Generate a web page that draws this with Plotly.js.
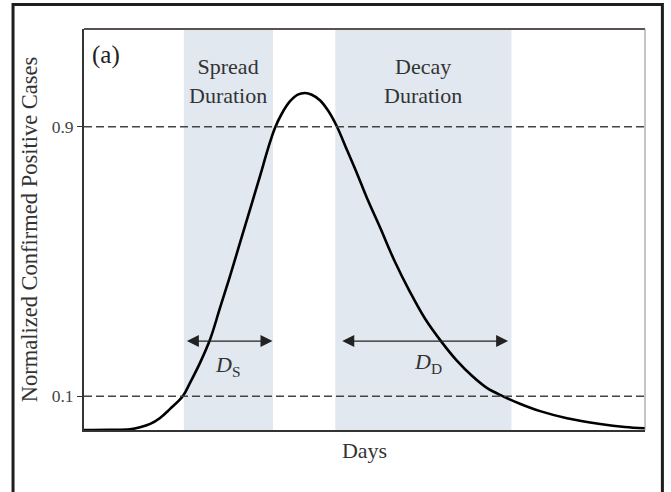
<!DOCTYPE html>
<html>
<head>
<meta charset="utf-8">
<script src="https://cdn.plot.ly/plotly-3.0.1.min.js"></script>
<style>
html,body{margin:0;padding:0;background:#fff;}
#chart{width:671px;height:492px;}
</style>
</head>
<body>
<div id="chart"></div>
<script>
// Curve (x: days scaled 0-100, y: normalized cases)
const days = [0, 4.5, 8.2, 10.0, 11.8, 13.5, 15.3, 17.6, 18.9, 20.7, 22.5, 24.2, 26.0, 27.8, 29.6, 31.4, 32.8, 34.0, 35.3, 36.7, 38.1, 39.4, 40.6, 42.1, 43.5, 45.1, 46.9, 48.7, 50.4, 52.8, 55.4, 58.1, 60.8, 63.8, 66.5, 69.2, 71.8, 74.7, 77.7, 81.3, 86.1, 92.0, 96.4, 100];
const cases = [0, 0.0005, 0.002, 0.008, 0.018, 0.035, 0.062, 0.10, 0.14, 0.20, 0.27, 0.36, 0.455, 0.555, 0.655, 0.755, 0.835, 0.895, 0.94, 0.975, 0.995, 1.0, 0.995, 0.978, 0.948, 0.90, 0.83, 0.76, 0.69, 0.60, 0.50, 0.41, 0.33, 0.26, 0.205, 0.16, 0.125, 0.10, 0.078, 0.056, 0.035, 0.018, 0.009, 0.005];
const thresholds = [0.1, 0.9];
const thresholdLabels = ['0.1', '0.9'];
const spreadSpan = [17.8, 33.7];
const decaySpan = [44.8, 76.2];
const spreadArrow = [17.8, 33.6];
const decayArrow = [45.5, 75.6];
const arrowLevel = 0.264;
const spreadText = 'Spread<br>Duration';
const decayText = 'Decay<br>Duration';

const serif = 'Liberation Serif, Times New Roman, serif';
const txt = '#333333';

const shapes = [];
[spreadSpan, decaySpan].forEach(s => shapes.push({
  type: 'rect', xref: 'x', yref: 'paper', x0: s[0], x1: s[1], y0: 0, y1: 1,
  fillcolor: '#e1e8f0', line: {width: 0}, layer: 'below'
}));
thresholds.forEach(t => shapes.push({
  type: 'line', xref: 'paper', yref: 'y', x0: 0, x1: 1, y0: t, y1: t,
  line: {color: '#444', width: 1.6, dash: '8px,4px'}
}));
// top and right plot borders
shapes.push({type: 'line', xref: 'paper', yref: 'paper', x0: 0, x1: 1, y0: 1, y1: 1, line: {color: '#5a524e', width: 2}});
shapes.push({type: 'line', xref: 'paper', yref: 'paper', x0: 1, x1: 1, y0: 0, y1: 1, line: {color: '#8a8a8a', width: 1}});
// outer frame
shapes.push({type: 'rect', xref: 'paper', yref: 'paper', x0: -0.1265, x1: 1.031, y0: -0.25, y1: 1.0610,
  line: {color: '#1e1e1e', width: 3}, fillcolor: 'rgba(0,0,0,0)'});

function arrow(span) {
  return {
    xref: 'x', yref: 'y', axref: 'x', ayref: 'y',
    x: span[1], y: arrowLevel, ax: span[0], ay: arrowLevel,
    text: ' ', showarrow: true, arrowside: 'end+start',
    arrowhead: 2, startarrowhead: 2, arrowsize: 2, startarrowsize: 2,
    arrowwidth: 1.2, arrowcolor: '#222'
  };
}

const annotations = [
  arrow(spreadArrow), arrow(decayArrow),
  {xref: 'x', yref: 'y', x: (spreadSpan[0] + spreadSpan[1]) / 2, y: 1.036, text: spreadText,
   showarrow: false, font: {family: serif, size: 22, color: txt}},
  {xref: 'x', yref: 'y', x: (decaySpan[0] + decaySpan[1]) / 2, y: 1.036, text: decayText,
   showarrow: false, font: {family: serif, size: 22, color: txt}},
  {xref: 'x', yref: 'y', x: 3.9, y: 1.113, text: '(a)', showarrow: false,
   font: {family: serif, size: 25, color: '#222'}},
  {xref: 'x', yref: 'y', x: 25.6, y: 0.19, text: '<i>D</i><sub>S</sub>', showarrow: false,
   font: {family: serif, size: 22, color: txt}},
  {xref: 'x', yref: 'y', x: 61.4, y: 0.20, text: '<i>D</i><sub>D</sub>', showarrow: false,
   font: {family: serif, size: 22, color: txt}}
];

const trace = {
  x: days, y: cases, type: 'scatter', mode: 'lines',
  line: {color: '#000', width: 2.6, shape: 'spline', smoothing: 1},
  hoverinfo: 'skip'
};

const layout = {
  width: 671, height: 492,
  margin: {l: 84, r: 26, t: 29, b: 62},
  paper_bgcolor: '#fff', plot_bgcolor: '#fff',
  showlegend: false,
  xaxis: {
    range: [0, 100], showgrid: false, zeroline: false, showticklabels: false, ticks: '',
    showline: true, linecolor: '#333', linewidth: 2,
    title: {text: 'Days', font: {family: serif, size: 22, color: txt}, standoff: 12}
  },
  yaxis: {
    range: [0, 1.19], showgrid: false, zeroline: false,
    tickvals: thresholds, ticktext: thresholdLabels,
    ticks: 'outside', ticklen: 5, tickcolor: '#333', tickwidth: 1.2,
    tickfont: {family: serif, size: 17.5, color: '#444'},
    showline: true, linecolor: '#333', linewidth: 2,
    title: {text: 'Normalized Confirmed Positive Cases', font: {family: serif, size: 22.5, color: txt}, standoff: 8}
  },
  shapes: shapes,
  annotations: annotations
};

Plotly.newPlot('chart', [trace], layout, {displayModeBar: false, staticPlot: true});
</script>
</body>
</html>
